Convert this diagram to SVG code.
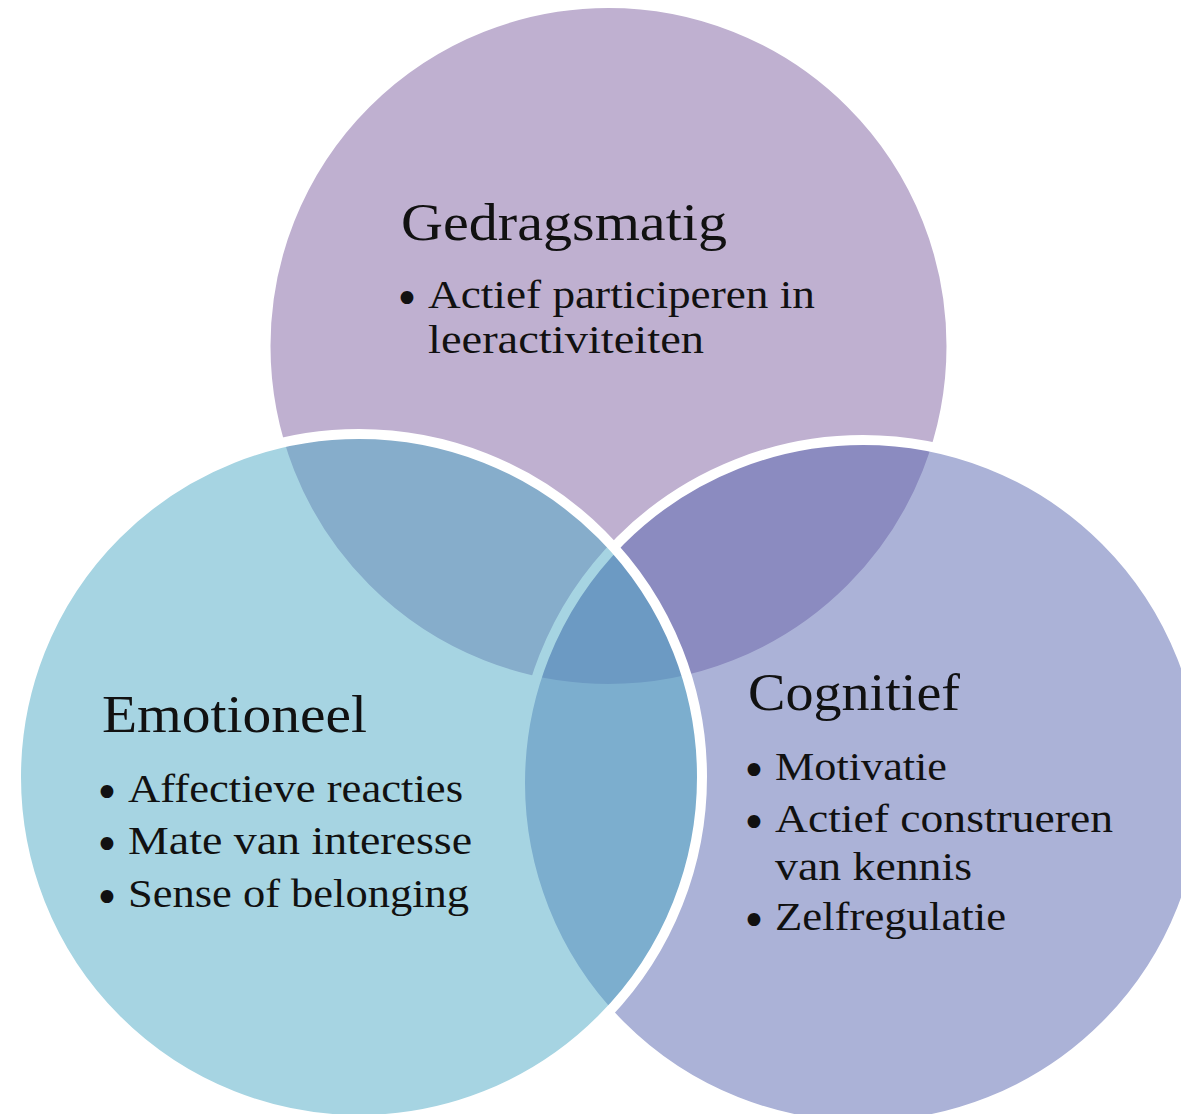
<svg xmlns="http://www.w3.org/2000/svg" width="1181" height="1114" viewBox="0 0 1181 1114">
  <style>
    .circle { stroke: #FFFFFF; stroke-width: 10; fill-opacity: 0.5; }
    .head { font-family: "Liberation Serif", "Times New Roman", serif; font-size: 53px; fill: #111111; }
    .item { font-family: "Liberation Serif", "Times New Roman", serif; font-size: 39px; fill: #111111; }
    .bullet { font-family: "DejaVu Sans", sans-serif; font-size: 44px; fill: #111111; }
  </style>
  <rect x="0" y="0" width="1181" height="1114" fill="#FFFFFF"/>
  <g id="node-gedragsmatig-shape">
    <circle class="circle" cx="608.5" cy="346" r="343" fill="#7F61A1"/>
  </g>
  <g id="node-cognitief-shape">
    <circle class="circle" cx="863" cy="783" r="343" fill="#5765AF"/>
  </g>
  <g id="node-emotioneel-shape">
    <circle class="circle" cx="359" cy="777" r="343" fill="#4DA9C5"/>
  </g>
  <g id="connectors"></g>
  <g id="node-gedragsmatig">
    <text class="head" x="401" y="240" textLength="326" lengthAdjust="spacingAndGlyphs">Gedragsmatig</text>
    <text class="bullet" x="394" y="314">•</text>
    <text class="item" x="428" y="308" textLength="387" lengthAdjust="spacingAndGlyphs">Actief participeren in</text>
    <text class="item" x="428" y="353" textLength="276" lengthAdjust="spacingAndGlyphs">leeractiviteiten</text>
  </g>
  <g id="node-emotioneel">
    <text class="head" x="102" y="732" textLength="265" lengthAdjust="spacingAndGlyphs">Emotioneel</text>
    <text class="bullet" x="94" y="808">•</text>
    <text class="item" x="128" y="802" textLength="335" lengthAdjust="spacingAndGlyphs">Affectieve reacties</text>
    <text class="bullet" x="94" y="860">•</text>
    <text class="item" x="128" y="854" textLength="344" lengthAdjust="spacingAndGlyphs">Mate van interesse</text>
    <text class="bullet" x="94" y="913">•</text>
    <text class="item" x="128" y="907" textLength="341" lengthAdjust="spacingAndGlyphs">Sense of belonging</text>
  </g>
  <g id="node-cognitief">
    <text class="head" x="748" y="710" textLength="212" lengthAdjust="spacingAndGlyphs">Cognitief</text>
    <text class="bullet" x="741" y="786">•</text>
    <text class="item" x="775" y="780" textLength="172" lengthAdjust="spacingAndGlyphs">Motivatie</text>
    <text class="bullet" x="741" y="838">•</text>
    <text class="item" x="775" y="832" textLength="338" lengthAdjust="spacingAndGlyphs">Actief construeren</text>
    <text class="item" x="775" y="880" textLength="197" lengthAdjust="spacingAndGlyphs">van kennis</text>
    <text class="bullet" x="741" y="936">•</text>
    <text class="item" x="775" y="930" textLength="231" lengthAdjust="spacingAndGlyphs">Zelfregulatie</text>
  </g>
</svg>
